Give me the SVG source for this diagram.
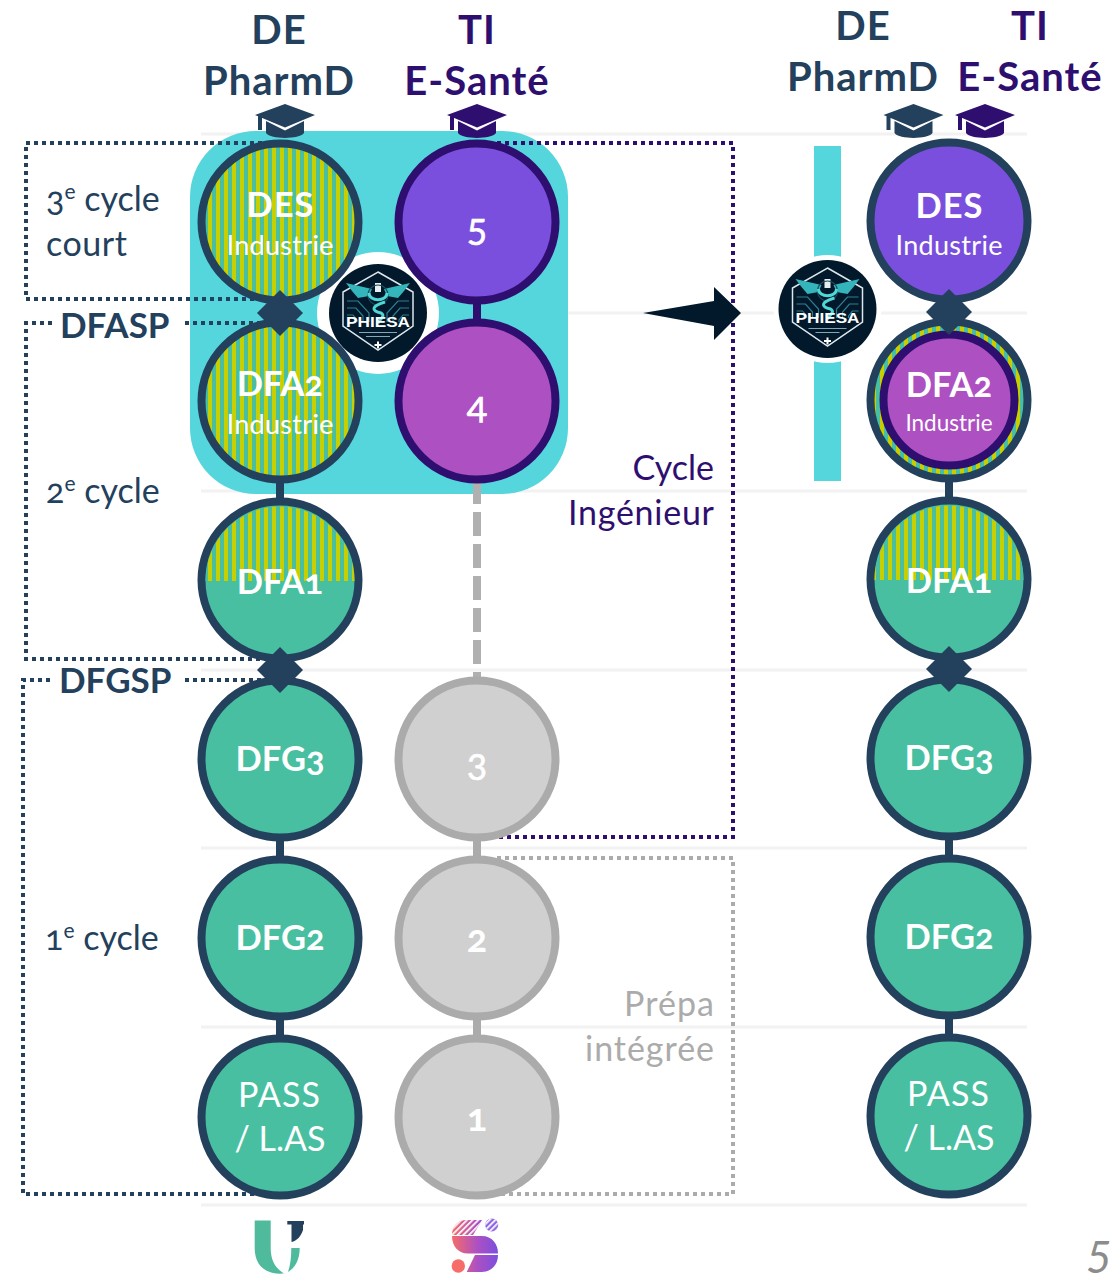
<svg xmlns="http://www.w3.org/2000/svg" xmlns:xlink="http://www.w3.org/1999/xlink" width="1115" height="1282" viewBox="0 0 1115 1282">
<style>
text{font-family:"Lato","Open Sans","Liberation Sans",sans-serif;font-variant-numeric:oldstyle-nums}
.c{text-anchor:middle}
.w{fill:#fff}
.b{font-weight:700}
.nav{fill:#23405C}
.pur{fill:#2E0F70}
.h{font-size:40px;font-weight:700;letter-spacing:1px}
.l{font-size:34.500px;font-weight:700}
.s{font-size:27px}
.lab{font-size:34px}
.num{font-size:38px;stroke:#fff;stroke-width:.6px}
.numb{font-size:38px;font-weight:700}
.grid{stroke:#F2F2F2;stroke-width:3}
.dn{fill:none;stroke:#23405C;stroke-width:4;stroke-dasharray:4 4}
.dp{fill:none;stroke:#2E0F70;stroke-width:4;stroke-dasharray:4 4}
.dg{fill:none;stroke:#ABABAB;stroke-width:4;stroke-dasharray:4 4}
.n{stroke:#23405C;stroke-width:8}
.t{stroke:#2E0F70;stroke-width:8}
.g{stroke:#ABABAB;stroke-width:8;fill:#D0D0D0}
.green{fill:#48BFA0}
.st{fill:url(#stripes)}
.con{stroke-width:8;fill:none}
</style>
<defs>
<pattern id="stripes" patternUnits="userSpaceOnUse" width="8" height="8">
<rect width="8" height="8" fill="#48BFA0"/><rect width="4" height="8" fill="#C8CF00"/>
</pattern>
<path id="cap" d="M0,-16 L30,-5 L0,7.500 L-30,-5 Z M-19,1 L0,10.500 L19,1 V13 C14,19.500 -14,19.500 -19,13 Z M-27,-4 L-23,-2.500 V10 H-27 Z"/>
<path id="dia" d="M0,-23 L23,0 L0,23 L-23,0 Z" fill="#23405C"/>
<g id="logo">
<circle r="49" fill="#02182B"/>
<path d="M0,-41 L35,-21 V13 L0,37 L-35,13 V-21 Z" fill="none" stroke="#DCE8EC" stroke-width="1.500"/>
<path d="M-32,-30 L-6,-24 L-9,-17 L-20,-15 L-26,-22 Z M32,-30 L6,-24 L9,-17 L20,-15 L26,-22 Z" fill="#33B5BB"/>
<path d="M-3,-30 H3 V-21 H-3 Z" fill="#E6EEF0"/>
<circle cy="-18" r="10" fill="none" stroke="#1E4C5C" stroke-width="1.200"/>
<path d="M-9,-20 C-9,-11 9,-11 9,-20 M7,-11 C-7,-7 -7,-2 3,0 C8,3 2,6 0,10" fill="none" stroke="#4FD6D6" stroke-width="3"/>
<path d="M-31,-12 H-20 L-9,0 V9 M-31,-5 H-22 L-15,3 V9 M-31,2 H-25 L-21,7 V9 M31,-12 H20 L9,0 V9 M31,-5 H22 L15,3 V9 M31,2 H25 L21,7 V9" fill="none" stroke="#2F7F8F" stroke-width="1.200"/>
<text y="14" class="c b" textLength="64" lengthAdjust="spacingAndGlyphs" style="font-size:15.500px;font-family:'Liberation Sans',sans-serif" fill="#fff">PHIESA</text>
<path d="M-19,19.500 H19 M-12,23.500 H12" stroke="#7FA8B3" stroke-width="1.200"/>
<path d="M-3.500,32 H3.500 M0,28.500 V35.500" stroke="#fff" stroke-width="2"/>
</g>
<linearGradient id="sg" gradientUnits="userSpaceOnUse" x1="452" x2="498" y1="0" y2="0"><stop offset="0" stop-color="#F56C68"/><stop offset=".55" stop-color="#AD50C2"/><stop offset="1" stop-color="#7B4FDD"/></linearGradient>
<pattern id="hat" patternUnits="userSpaceOnUse" width="4" height="4" patternTransform="rotate(-45)"><rect width="4" height="1.700" fill="#fff"/></pattern>
</defs>
<rect width="1115" height="1282" fill="#fff"/>

<g id="grid">
<path class="grid" d="M201,134H1027M201,313H1027M201,491H1027M201,670H1027M201,848H1027M201,1027H1027M201,1205H1027"/>
</g>
<rect id="phiesa-zone" x="190" y="131" width="378" height="363" rx="66" fill="#55D5DC"/>
<circle id="phiesa-halo" cx="378" cy="313" r="61" fill="#fff"/>

<g id="brackets">
<path class="dn" d="M262,143H26V299H265"/>
<path class="dn" d="M52,323H26V659H265"/>
<path class="dn" d="M185,323H262"/>
<path class="dn" d="M50,680H23V1194H262"/>
<path class="dn" d="M185,680H262"/>
<path class="dp" d="M497,143H733V837H497"/>
<path class="dg" d="M497,858H733V1194H497"/>
</g>

<g id="connectors">
<path class="con" stroke="#23405C" d="M280,222V1117M949,221V1116"/>
<path class="con" stroke="#2E0F70" d="M477,222V401"/>
<path class="con" stroke="#ABABAB" d="M477,759V1117"/>
<path class="con" stroke="#B0B0B0" stroke-dasharray="24 8" d="M477,480V682"/>
<path id="arrow" d="M643,313L714,301V287L741,313L714,340V326Z" fill="#02182B"/>
</g>

<g id="n-des"><circle class="n st" cx="280" cy="222" r="78.500"/><text class="c w l" textLength="67" x="280" y="217">DES</text><text class="c w s" textLength="107" x="280" y="255">Industrie</text></g>
<g id="n-dfa2"><circle class="n st" cx="280" cy="401" r="78.500"/><text class="c w l" x="280" y="396">DFA2</text><text class="c w s" textLength="107" x="280" y="434">Industrie</text></g>
<g id="n-dfa1"><circle class="n green" cx="280" cy="580" r="78.500"/><path class="st" d="M205.500,581A74.500,74.500 0 0 1 354.500,581Z"/><text class="c w l" x="280" y="594">DFA1</text></g>
<g id="n-dfg3"><circle class="n green" cx="280" cy="759" r="78.500"/><text class="c w l" x="280" y="771">DFG3</text></g>
<g id="n-dfg2"><circle class="n green" cx="280" cy="938" r="78.500"/><text class="c w l" x="280" y="950">DFG2</text></g>
<g id="n-pass"><circle class="n green" cx="280" cy="1117" r="78.500"/><text class="c w lab" textLength="82" x="279" y="1107">PASS</text><text class="c w lab" x="280" y="1151">/ L.AS</text></g>

<g id="t-5"><circle class="t" fill="#7B4FDD" cx="477" cy="222" r="78.500"/><text class="c w num" x="477" y="241">5</text></g>
<g id="t-4"><circle class="t" fill="#AD50C2" cx="477" cy="401" r="78.500"/><text class="c w num" x="477" y="419">4</text></g>
<g id="t-3"><circle class="g" cx="477" cy="759" r="78.500"/><text class="c w num" x="477" y="776">3</text></g>
<g id="t-2"><circle class="g" cx="477" cy="938" r="78.500"/><text class="c w numb" x="477" y="952">2</text></g>
<g id="t-1"><circle class="g" cx="477" cy="1117" r="78.500"/><text class="c w numb" x="477" y="1131">1</text></g>

<g id="r-des"><circle class="n" fill="#7B4FDD" cx="949" cy="221" r="78.500"/><text class="c w l" textLength="67" x="949" y="218">DES</text><text class="c w s" textLength="107" x="949" y="255">Industrie</text></g>
<g id="r-dfa2"><circle class="n st" cx="949" cy="400" r="78.500"/><circle class="t" fill="#AD50C2" cx="949" cy="400" r="65.500"/><text class="c w l" x="949" y="397">DFA2</text><text class="c w" style="font-size:22.500px" x="949" y="431">Industrie</text></g>
<g id="r-dfa1"><circle class="n green" cx="949" cy="579" r="78.500"/><path class="st" d="M874.500,580A74.500,74.500 0 0 1 1023.500,580Z"/><text class="c w l" x="949" y="593">DFA1</text></g>
<g id="r-dfg3"><circle class="n green" cx="949" cy="758" r="78.500"/><text class="c w l" x="949" y="770">DFG3</text></g>
<g id="r-dfg2"><circle class="n green" cx="949" cy="937" r="78.500"/><text class="c w l" x="949" y="949">DFG2</text></g>
<g id="r-pass"><circle class="n green" cx="949" cy="1116" r="78.500"/><text class="c w lab" textLength="82" x="948" y="1106">PASS</text><text class="c w lab" x="949" y="1150">/ L.AS</text></g>

<g id="diamonds">
<use xlink:href="#dia" href="#dia" x="280" y="313"/>
<use xlink:href="#dia" href="#dia" x="280" y="670"/>
<use xlink:href="#dia" href="#dia" x="949" y="312"/>
<use xlink:href="#dia" href="#dia" x="949" y="669"/>
</g>

<g id="phiesa-left"><use xlink:href="#logo" href="#logo" x="378" y="313"/></g>
<g id="phiesa-right"><rect x="814" y="146" width="27" height="335" fill="#55D5DC"/><circle cx="827.500" cy="309" r="54" fill="#fff"/><use xlink:href="#logo" href="#logo" x="827.500" y="309"/></g>

<g id="caps">
<use xlink:href="#cap" href="#cap" x="285" y="120" fill="#23405C"/>
<use xlink:href="#cap" href="#cap" x="477" y="120" fill="#2E0F70"/>
<use xlink:href="#cap" href="#cap" x="913.500" y="120" fill="#23405C"/>
<use xlink:href="#cap" href="#cap" x="985" y="120" fill="#2E0F70"/>
</g>

<g id="headers">
<text class="c h nav" x="279" y="44">DE</text><text class="c h nav" x="279" y="95">PharmD</text>
<text class="c h pur" x="477" y="44">TI</text><text class="c h pur" x="477" y="95">E-Santé</text>
<text class="c h nav" x="863" y="40">DE</text><text class="c h nav" x="863" y="91">PharmD</text>
<text class="c h pur" x="1030" y="40">TI</text><text class="c h pur" x="1030" y="91">E-Santé</text>
</g>

<g id="labels">
<text class="lab nav" x="46" y="211">3<tspan font-size="21" dy="-12">e</tspan><tspan dy="12"> cycle</tspan></text>
<text class="lab nav" x="46" y="256" textLength="81">court</text>
<text class="lab nav" x="46" y="503">2<tspan font-size="21" dy="-12">e</tspan><tspan dy="12"> cycle</tspan></text>
<text class="lab nav" x="45" y="950">1<tspan font-size="21" dy="-12">e</tspan><tspan dy="12"> cycle</tspan></text>
<text class="b nav" style="font-size:35px" x="60" y="338">DFASP</text>
<text class="b nav" style="font-size:35px" x="59" y="693">DFGSP</text>
<text class="lab pur" text-anchor="end" x="714" y="480">Cycle</text>
<text class="lab pur" text-anchor="end" textLength="146" x="714" y="525">Ingénieur</text>
<text class="lab" fill="#ABABAB" text-anchor="end" textLength="90" x="714" y="1016">Prépa</text>
<text class="lab" fill="#ABABAB" text-anchor="end" textLength="129" x="714" y="1061">intégrée</text>
<text x="1086" y="1273" font-style="italic" font-size="44" fill="#8C8C8C" style="font-variant-numeric:lining-nums">5</text>
</g>

<g id="logo-u">
<path d="M254.700,1220.500H270.700V1248C270.700,1260 275,1268 284,1273.500C266,1275 254.700,1266 254.700,1248Z" fill="#50BA9C"/>
<path d="M291.300,1248H299.700C299.700,1260 295,1268 288,1272C290.500,1265 291.300,1257 291.300,1248Z" fill="#50BA9C"/>
<path d="M287.300,1221H304V1224.500H303V1230C301,1236 297,1241 291.500,1242V1224.500H287.300Z" fill="#23405C"/>
</g>
<g id="logo-s">
<path id="s-hat" d="M452,1235C452,1226 458,1220 467,1220H482L473,1235Z" fill="url(#sg)"/>
<path d="M452,1235C452,1226 458,1220 467,1220H482L473,1235Z" fill="url(#hat)"/>
<circle cx="491.700" cy="1225" r="6.500" fill="#8F66E4"/>
<circle cx="491.700" cy="1225" r="6.500" fill="url(#hat)"/>
<path d="M452,1236H482C492,1236 498,1244 498,1253.500H468C458,1253.500 452,1246 452,1236Z" fill="url(#sg)"/>
<path d="M475,1255H498C498,1265 491,1272 481.700,1272H466.700Z" fill="url(#sg)"/>
<circle cx="458.300" cy="1266" r="6.700" fill="#F56C68"/>
</g>
</svg>
